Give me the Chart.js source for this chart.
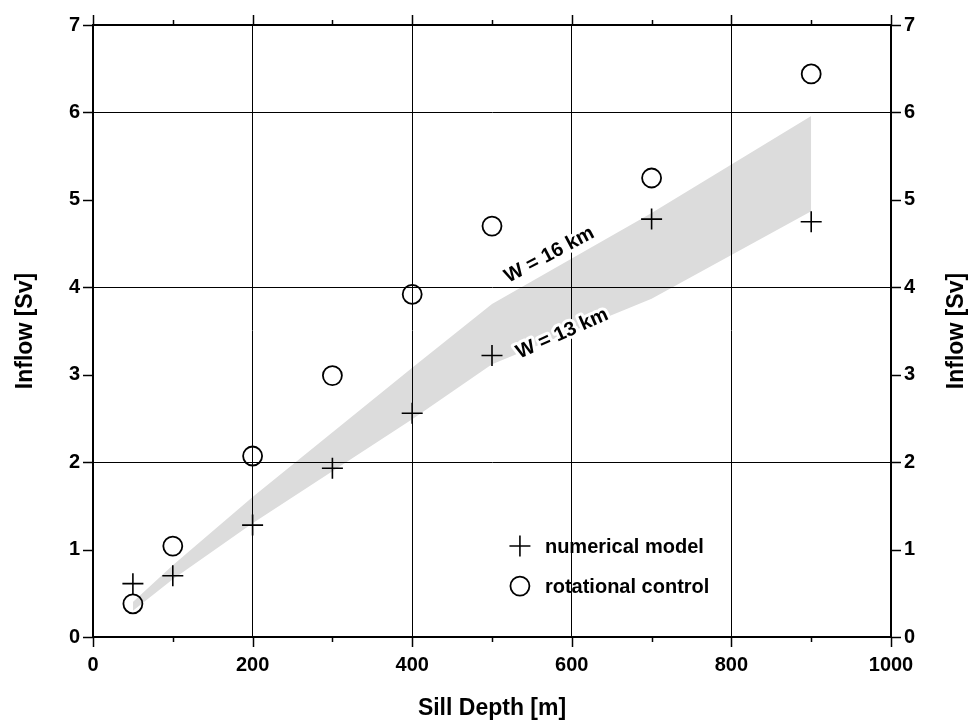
<!DOCTYPE html>
<html>
<head>
<meta charset="utf-8">
<script src="https://cdn.jsdelivr.net/npm/chart.js@4/dist/chart.umd.min.js"></script>
<style>
  html, body { margin: 0; padding: 0; background: #fff; }
  canvas { display: block; }
</style>
</head>
<body>
<canvas id="chart" width="974" height="725"></canvas>
<script>
// Sill depth [m] of each experiment
const sillDepth = [50, 100, 200, 300, 400, 500, 700, 900];
// Inflow [Sv] from the numerical model
const numericalModel = [0.61, 0.70, 1.28, 1.93, 2.56, 3.22, 4.78, 4.75];
// Inflow [Sv] from rotational hydraulic control theory
const rotationalControl = [0.38, 1.04, 2.07, 2.99, 3.92, 4.70, 5.25, 6.44];

// Range of the theoretical estimate for the two strait widths
const bandDepth = [50, 100, 200, 400, 500, 700, 900];
const bandUpper = [0.40, 0.82, 1.60, 3.08, 3.81, 4.85, 5.96]; // W = 16 km
const bandLower = [0.30, 0.66, 1.30, 2.49, 3.12, 3.87, 4.87]; // W = 13 km

const legendLabels = ['numerical model', 'rotational control'];
const bandLabels = ['W = 16 km', 'W = 13 km'];
const xTitle = 'Sill Depth [m]';
const yTitle = 'Inflow [Sv]';

const toPoints = (xs, ys) => xs.map((x, i) => ({ x, y: ys[i] }));

const FONT = '"Liberation Sans", Arial, Helvetica, sans-serif';
const BAND_GREY = '#dcdcdc';

// Where the band labels sit (data coordinates) and their slant
const bandLabelPlacement = [
  { x: 572, y: 4.37, angle: -28 },
  { x: 588, y: 3.47, angle: -24 }
];

// Frame tick marks, in-plot annotations, legend and axis titles
const decorations = {
  id: 'decorations',
  afterDraw(chart) {
    const { ctx, chartArea: a, scales } = chart;
    const xs = scales.x, ys = scales.y;
    ctx.save();
    ctx.strokeStyle = '#000';
    ctx.lineWidth = 1.5;
    const seg = (x1, y1, x2, y2) => { ctx.beginPath(); ctx.moveTo(x1, y1); ctx.lineTo(x2, y2); ctx.stroke(); };

    // x ticks every 100 m (longer every 200 m), bottom and top
    for (let v = xs.min; v <= xs.max; v += 100) {
      const px = Math.round(xs.getPixelForValue(v)) + 0.5;
      const len = v % 200 === 0 ? 10 : 5;
      seg(px, a.bottom, px, a.bottom + len);
      seg(px, a.top, px, a.top - len);
    }
    // y ticks every 1 Sv, left and right
    for (let v = ys.min; v <= ys.max; v += 1) {
      const py = Math.round(ys.getPixelForValue(v)) + 0.5;
      seg(a.left - 10, py, a.left, py);
      seg(a.right, py, a.right + 10, py);
    }

    // band labels with a white halo
    ctx.font = 'bold 20px ' + FONT;
    ctx.textAlign = 'center';
    ctx.textBaseline = 'middle';
    ctx.lineJoin = 'round';
    bandLabelPlacement.forEach((p, i) => {
      ctx.save();
      ctx.translate(xs.getPixelForValue(p.x), ys.getPixelForValue(p.y));
      ctx.rotate(p.angle * Math.PI / 180);
      ctx.strokeStyle = '#fff';
      ctx.lineWidth = 6;
      ctx.strokeText(bandLabels[i], 0, 0);
      ctx.fillStyle = '#000';
      ctx.fillText(bandLabels[i], 0, 0);
      ctx.restore();
    });

    // legend
    const metas = [chart.getDatasetMeta(2), chart.getDatasetMeta(3)];
    const lx = xs.getPixelForValue(535);
    const ly = ys.getPixelForValue(1.04);
    ctx.font = 'bold 20px ' + FONT;
    ctx.textAlign = 'left';
    metas.forEach((m, i) => {
      const ds = chart.data.datasets[m.index];
      const cy = ly + i * 40;
      ctx.save();
      ctx.strokeStyle = '#000';
      ctx.fillStyle = 'rgba(0,0,0,0)';
      ctx.lineWidth = ds.pointBorderWidth;
      Chart.helpers.drawPoint(ctx, { pointStyle: ds.pointStyle, radius: ds.pointRadius, borderWidth: ds.pointBorderWidth, rotation: 0 }, lx, cy);
      ctx.restore();
      ctx.fillStyle = '#000';
      ctx.fillText(legendLabels[i], lx + 25, cy + 1);
    });

    // axis titles
    ctx.font = 'bold 23px ' + FONT;
    ctx.textAlign = 'center';
    ctx.textBaseline = 'middle';
    ctx.fillStyle = '#000';
    ctx.fillText(xTitle, (a.left + a.right) / 2, 709);
    const midY = (a.top + a.bottom) / 2;
    [26, 957].forEach(tx => {
      ctx.save();
      ctx.translate(tx, midY);
      ctx.rotate(-Math.PI / 2);
      ctx.fillText(yTitle, 0, 0);
      ctx.restore();
    });
    ctx.restore();
  }
};

const tickFont = { family: FONT, size: 20, weight: 'bold' };
const frame = { display: true, color: '#000', width: 2 };
const plainNumber = v => String(v);

new Chart(document.getElementById('chart'), {
  type: 'line',
  data: {
    datasets: [
      {
        label: bandLabels[0],
        data: toPoints(bandDepth, bandUpper),
        borderWidth: 0, pointRadius: 0,
        backgroundColor: BAND_GREY,
        fill: '+1', tension: 0
      },
      {
        label: bandLabels[1],
        data: toPoints(bandDepth, bandLower),
        borderWidth: 0, pointRadius: 0,
        backgroundColor: BAND_GREY,
        fill: false, tension: 0
      },
      {
        label: legendLabels[0],
        data: toPoints(sillDepth, numericalModel),
        showLine: false,
        pointStyle: 'cross', pointRadius: 10.5, pointBorderWidth: 1.6,
        pointBorderColor: '#000', pointBackgroundColor: 'rgba(0,0,0,0)'
      },
      {
        label: legendLabels[1],
        data: toPoints(sillDepth, rotationalControl),
        showLine: false,
        pointStyle: 'circle', pointRadius: 9.5, pointBorderWidth: 1.8,
        pointBorderColor: '#000', pointBackgroundColor: 'rgba(0,0,0,0)'
      }
    ]
  },
  options: {
    responsive: false,
    animation: false,
    devicePixelRatio: 1,
    layout: { padding: 0 },
    plugins: {
      legend: { display: false },
      tooltip: { enabled: false },
      filler: { drawTime: 'beforeDraw' }
    },
    scales: {
      x: {
        type: 'linear', position: 'bottom', min: 0, max: 1000,
        ticks: { stepSize: 200, font: tickFont, color: '#000', padding: 16, maxRotation: 0, callback: plainNumber },
        grid: {
          drawTicks: false, lineWidth: 1,
          color: c => (c.tick && c.tick.value > 0 && c.tick.value < 1000) ? '#000' : 'rgba(0,0,0,0)'
        },
        border: frame,
        afterFit: s => { s.height = 88; }
      },
      xTop: {
        type: 'linear', position: 'top', min: 0, max: 1000,
        ticks: { display: false },
        grid: { display: false, drawTicks: false },
        border: frame,
        afterFit: s => { s.height = 18; }
      },
      y: {
        type: 'linear', position: 'left', min: 0, max: 7,
        ticks: { stepSize: 1, font: tickFont, color: '#000', padding: 13, callback: plainNumber },
        grid: {
          drawTicks: false, lineWidth: 1,
          color: c => (c.tick && c.tick.value % 2 === 0 && c.tick.value > 0 && c.tick.value < 7) ? '#000' : 'rgba(0,0,0,0)'
        },
        border: frame,
        afterFit: s => { s.width = 93; }
      },
      yRight: {
        type: 'linear', position: 'right', min: 0, max: 7,
        ticks: { stepSize: 1, font: tickFont, color: '#000', padding: 13, callback: plainNumber },
        grid: { display: false, drawTicks: false },
        border: frame,
        afterFit: s => { s.width = 83; }
      }
    }
  },
  plugins: [decorations]
});
</script>
</body>
</html>
